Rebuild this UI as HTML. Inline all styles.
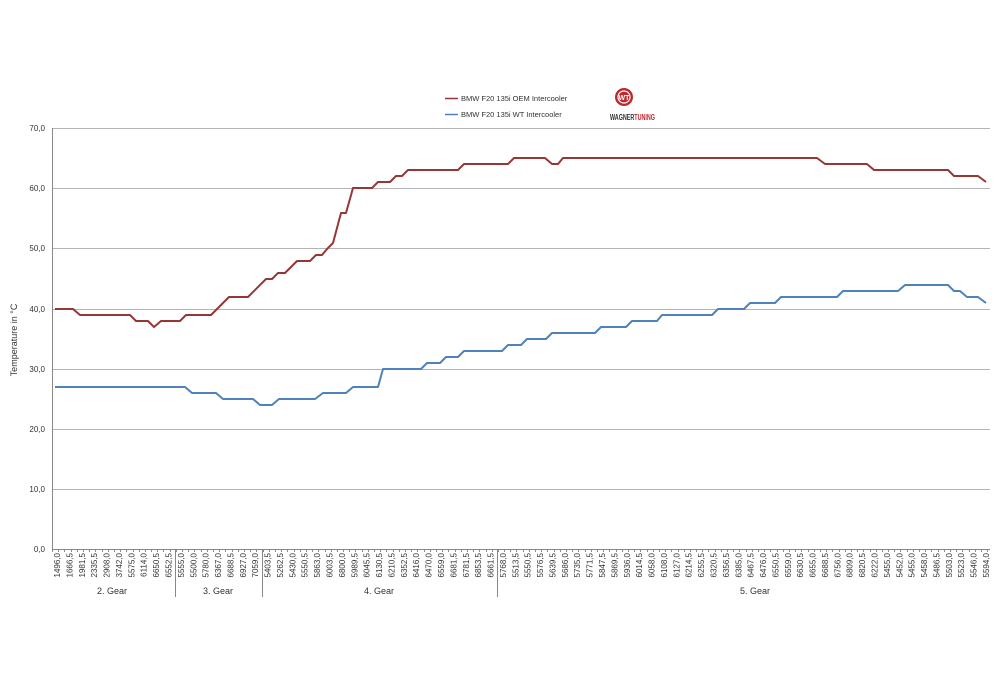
<!DOCTYPE html>
<html><head><meta charset="utf-8"><style>body{margin:0;background:#fff}svg{display:block}</style></head>
<body>
<svg id="s" width="1000" height="690" xmlns="http://www.w3.org/2000/svg" font-family="Liberation Sans, sans-serif">
<g stroke="#b4b4b4" stroke-width="1">
<line x1="52" x2="990" y1="128.5" y2="128.5"/><line x1="52" x2="990" y1="188.5" y2="188.5"/>
<line x1="52" x2="990" y1="248.5" y2="248.5"/><line x1="52" x2="990" y1="309.5" y2="309.5"/>
<line x1="52" x2="990" y1="369.5" y2="369.5"/><line x1="52" x2="990" y1="429.5" y2="429.5"/>
<line x1="52" x2="990" y1="489.5" y2="489.5"/>
</g>
<g stroke="#888" stroke-width="1">
<line x1="52.5" x2="52.5" y1="128" y2="549"/><line x1="52" x2="990" y1="549.5" y2="549.5"/>
<line x1="175.5" x2="175.5" y1="549" y2="597"/><line x1="262.5" x2="262.5" y1="549" y2="597"/><line x1="497.5" x2="497.5" y1="549" y2="597"/>
</g>
<g id="ticks" stroke="#888"></g>
<g font-size="8" fill="#333" text-anchor="end">
<text x="45" y="131">70,0</text><text x="45" y="191">60,0</text><text x="45" y="251">50,0</text><text x="45" y="312">40,0</text>
<text x="45" y="372">30,0</text><text x="45" y="432">20,0</text><text x="45" y="492">10,0</text><text x="45" y="552">0,0</text>
</g>
<text transform="translate(17,340) rotate(-90)" font-size="9" fill="#333" text-anchor="middle">Temperature in °C</text>
<g id="xl" font-size="8" fill="#333"></g>
<g font-size="9" fill="#333" text-anchor="middle">
<text x="112" y="594">2. Gear</text><text x="218" y="594">3. Gear</text><text x="379" y="594">4. Gear</text><text x="755" y="594">5. Gear</text>
</g>
<polyline fill="none" stroke="#953735" stroke-width="2" stroke-linejoin="round" points="55,309 73,309 80,315 130,315 136,321 148,321 154,327 161,321 180,321 186,315 211,315 229,297 248,297 266,279 272,279 278,273 285,273 297,261 310,261 316,255 322,255 327,249 333,243 341,213 346,213 353,188 372,188 378,182 390,182 396,176 402,176 408,170 458,170 464,164 508,164 514,158 545,158 552,164 558,164 563,158 817,158 825,164 867,164 874,170 948,170 954,176 978,176 986,182"/>
<polyline fill="none" stroke="#4f81bd" stroke-width="2" stroke-linejoin="round" points="55,387 185,387 192,393 216,393 223,399 253,399 260,405 272,405 279,399 315,399 323,393 346,393 353,387 378,387 383,369 421,369 427,363 440,363 446,357 458,357 464,351 502,351 508,345 521,345 527,339 546,339 552,333 595,333 601,327 626,327 632,321 657,321 662,315 712,315 718,309 744,309 750,303 775,303 781,297 837,297 843,291 898,291 905,285 948,285 954,291 960,291 967,297 978,297 986,303"/>
<line x1="445" x2="458" y1="98.5" y2="98.5" stroke="#953735" stroke-width="1.5"/>
<line x1="445" x2="458" y1="114.5" y2="114.5" stroke="#4f81bd" stroke-width="1.5"/>
<text x="461" y="101" font-size="7.5" fill="#333">BMW F20 135i OEM Intercooler</text>
<text x="461" y="117" font-size="7.5" fill="#333">BMW F20 135i WT Intercooler</text>
<circle cx="624" cy="97" r="9" fill="#c0282d"/><circle cx="624" cy="97" r="6" fill="none" stroke="#fff" stroke-width="1.2"/>
<text x="624" y="100" font-size="7" fill="#fff" text-anchor="middle" font-weight="bold">WT</text>
<text x="610" y="120" font-size="8" font-weight="bold" fill="#333" textLength="45" lengthAdjust="spacingAndGlyphs">WAGNER<tspan fill="#c0282d">TUNING</tspan></text>
</svg>
<script>
var L="1496,0 1666,5 1981,5 2335,5 2908,0 3742,0 5575,0 6114,0 6650,5 6552,5 5555,0 5500,0 5780,0 6367,0 6688,5 6927,0 7059,0 5403,5 5262,5 5430,0 5550,5 5863,0 6003,5 6800,0 5989,5 6045,5 6130,5 6210,5 6352,5 6416,0 6470,0 6559,0 6681,5 6781,5 6853,5 6661,5 5768,0 5513,5 5550,5 5576,5 5639,5 5686,0 5735,0 5771,5 5847,5 5869,5 5936,0 6014,5 6058,0 6108,0 6127,0 6214,5 6255,5 6320,5 6356,5 6385,0 6467,5 6476,0 6550,5 6559,0 6630,5 6655,0 6688,5 6756,0 6809,0 6820,5 6222,0 5455,0 5452,0 5455,0 5458,0 5486,5 5503,0 5523,0 5546,0 5594,0".split(" ");
var ns="http://www.w3.org/2000/svg",g=document.getElementById("xl"),t=document.getElementById("ticks");
var step=(986-57)/(L.length-1);
L.forEach(function(s,i){var x=57+i*step;var e=document.createElementNS(ns,"text");
e.setAttribute("transform","translate("+(x+3)+",553) rotate(-90)");e.setAttribute("text-anchor","end");e.textContent=s;g.appendChild(e);});
for(var x=52;x<=991;x+=step/2){var l=document.createElementNS(ns,"line");l.setAttribute("x1",Math.round(x)+.5);l.setAttribute("x2",Math.round(x)+.5);l.setAttribute("y1",549);l.setAttribute("y2",552);t.appendChild(l);}
</script>
</body></html>
